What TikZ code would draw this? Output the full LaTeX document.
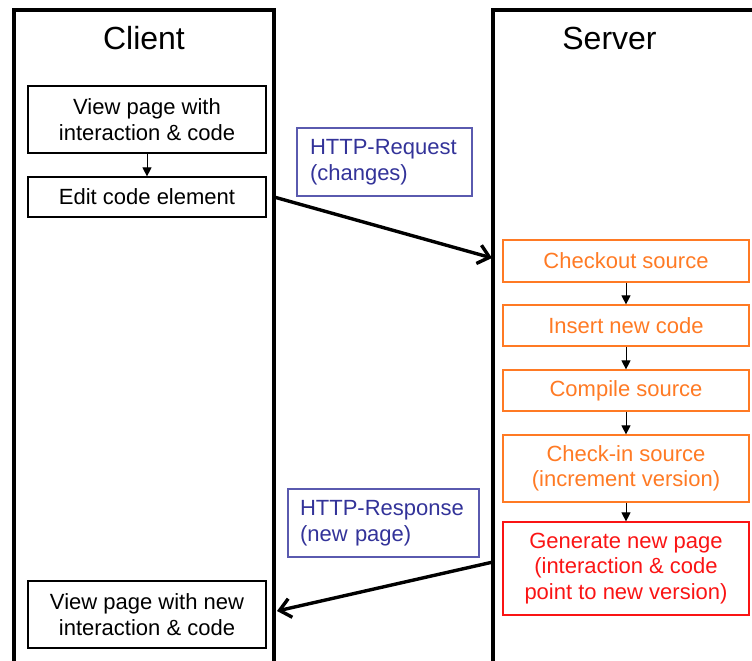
\documentclass[tikz,border=0pt]{standalone}
\usepackage{fontspec}
\setmainfont{Liberation Sans}
\usetikzlibrary{arrows.meta}

\definecolor{srvorange}{RGB}{255,122,36}
\definecolor{srvred}{RGB}{250,20,20}
\definecolor{msgblue}{RGB}{51,51,153}
\definecolor{msgframe}{RGB}{90,90,175}

\tikzset{
  lane/.style={line width=3.4pt, line cap=rect},
  title/.style={font=\fontsize{32}{36}\selectfont, inner sep=0pt},
  stepbox/.style={draw, line width=1.2pt, align=center, inner sep=0pt,
    font=\fontsize{22}{25.5}\selectfont},
  clientbox/.style={stepbox, draw=black, text=black, minimum width=238pt},
  serverbox/.style={stepbox, draw=srvorange, text=srvorange, minimum width=246pt},
  pagebox/.style={stepbox, draw=srvred, text=srvred, minimum width=246pt},
  msgbox/.style={draw=msgframe, line width=1.1pt, text=msgblue, align=left,
    inner ysep=0pt, minimum height=68pt,
    font=\fontsize{22}{25.5}\selectfont,
    execute at begin node={\exhyphenpenalty=10000 \hyphenpenalty=10000 }},
  flow/.style={-{Triangle[length=9pt,width=9pt]}, line width=1pt},
  message/.style={-{Straight Barb[length=11pt,width=19pt,line width=3.4pt]},
    line width=3.4pt},
}

\begin{document}
\begin{tikzpicture}[x=1pt, y=-1pt]
  \useasboundingbox (0,0) rectangle (752,661);
  \clip (0,0) rectangle (752,661);

  % swim lanes
  \draw[lane] (14,680) -- (14,10) -- (274,10) -- (274,680);
  \draw[lane] (493,680) -- (493,10) -- (780,10);
  \node[title] (client) at (144,38) {Client};
  \node[title] (server) at (609.5,38) {Server};

  % client side
  \node[clientbox, minimum height=67pt] (view) at (147,119.5)
    {View page with\\interaction \& code};
  \node[clientbox, minimum height=40pt] (edit) at (147,197)
    {Edit code element};
  \node[clientbox, minimum height=67pt] (viewnew) at (147,614.5)
    {View page with new\\interaction \& code};
  \draw[flow] (view) -- (edit);

  % server side
  \node[serverbox, minimum height=42pt] (checkout) at (626,261)
    {Checkout source};
  \node[serverbox, minimum height=41pt] (insert) at (626,325.5)
    {Insert new code};
  \node[serverbox, minimum height=41pt] (compile) at (626,390.5)
    {Compile source};
  \node[serverbox, minimum height=67pt] (checkin) at (626,468.5)
    {Check-in source\\(increment version)};
  \node[pagebox, minimum height=93pt] (generate) at (626,568.5)
    {Generate new page\\(interaction \& code\\point to new version)};
  \draw[flow] (checkout) -- (insert);
  \draw[flow] (insert) -- (compile);
  \draw[flow] (compile) -- (checkin);
  \draw[flow] (checkin) -- (generate);

  % messages between the lanes
  \node[msgbox, minimum width=175pt, text width=149pt, inner xsep=13pt]
    (request) at (384.5,162) {HTTP-Request\\(changes)};
  \node[msgbox, minimum width=191pt, text width=167pt, inner xsep=12pt]
    (response) at (383.5,523) {HTTP-Response\\(new page)};

  \coordinate (reqstart) at (274,197);
  \coordinate (reqend) at (492,258);
  \coordinate (resstart) at (493,562);
  \coordinate (resend) at (277,611);
  \draw[message] (reqstart) -- (reqend);
  \draw[message] (resstart) -- (resend);
\end{tikzpicture}
\end{document}
